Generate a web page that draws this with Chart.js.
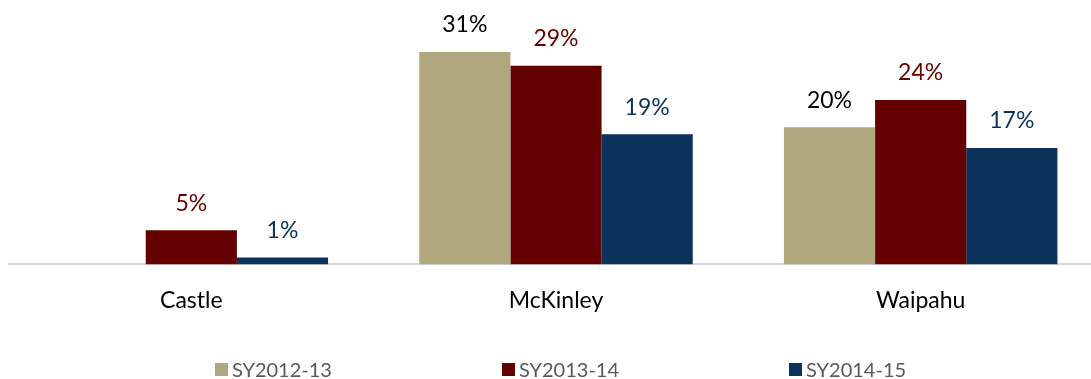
<!DOCTYPE html>
<html>
<head>
<meta charset="utf-8">
<script src="https://cdn.jsdelivr.net/npm/chart.js@4/dist/chart.umd.min.js"></script>
<style>
  html, body { margin: 0; padding: 0; background: #fff; overflow: hidden; }
  #wrap { position: relative; width: 1091px; height: 379px; overflow: hidden; }
  #legend {
    position: absolute; left: 0; top: 357px; width: 1091px;
    display: flex; justify-content: center; gap: 170px;
    font: 20px Lato, sans-serif; color: #595959;
  }
  .item { display: flex; align-items: center; white-space: nowrap; transform: translateX(15px); }
  .box { width: 13px; height: 13px; margin-right: 4px; }
</style>
</head>
<body>
<div id="wrap">
  <canvas id="chart" width="1103" height="379"></canvas>
  <div id="legend"></div>
</div>
<script>
// dados
const categorias = ['Castle', 'McKinley', 'Waipahu'];
const series = ['SY2012-13', 'SY2013-14', 'SY2014-15'];
const sy1213 = [0, 31, 20];
const sy1314 = [5, 29, 24];
const sy1415 = [1, 19, 17];

const CORES = ['#b1a77f', '#640000', '#0a325a'];
const CORES_LABEL = ['#000000', '#640000', '#0a325a'];
const fonte = 'Lato, sans-serif';

// rótulos de valor em cima das barras (sem plugin externo)
const rotulos = {
  id: 'rotulos',
  afterDatasetsDraw(chart) {
    const ctx = chart.ctx;
    ctx.save();
    ctx.font = `23px ${fonte}`;
    ctx.textAlign = 'center';
    ctx.textBaseline = 'middle';
    chart.data.datasets.forEach((ds, i) => {
      const meta = chart.getDatasetMeta(i);
      meta.data.forEach((bar, j) => {
        const v = ds.data[j];
        if (!v) return;
        ctx.fillStyle = CORES_LABEL[i];
        ctx.fillText(`${v}%`, bar.x, bar.y - 27);
      });
    });
    ctx.restore();
  },
};

// canvas um pouco mais largo que a janela: a área do gráfico passa da borda direita, como no original
const chart = new Chart(document.getElementById('chart'), {
  type: 'bar',
  data: {
    labels: categorias,
    datasets: [sy1213, sy1314, sy1415].map((d, i) => ({
      label: series[i],
      data: d,
      backgroundColor: CORES[i],
      borderWidth: 0,
    })),
  },
  options: {
    responsive: false,
    animation: false,
    categoryPercentage: 0.75,
    barPercentage: 1.0,
    layout: { padding: { left: 9, right: 0, top: 4, bottom: 43 } },
    scales: {
      x: {
        grid: { display: false, drawTicks: false },
        border: { display: true, color: '#d9d9d9', width: 2 },
        ticks: { color: '#000', font: { family: fonte, size: 23 }, padding: 22 },
      },
      y: { display: false, min: 0, max: 38 },
    },
    plugins: {
      legend: { display: false },
      tooltip: { enabled: false },
    },
  },
  plugins: [rotulos],
});

// legenda em HTML, montada a partir dos datasets
const leg = document.getElementById('legend');
chart.data.datasets.forEach((ds) => {
  const it = document.createElement('div');
  it.className = 'item';
  it.innerHTML = `<span class="box" style="background:${ds.backgroundColor}"></span><span>${ds.label}</span>`;
  leg.appendChild(it);
});
</script>
</body>
</html>
